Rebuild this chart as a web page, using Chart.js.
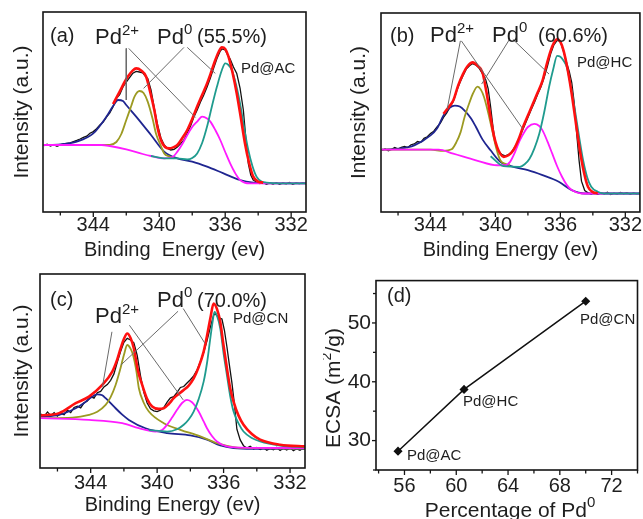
<!DOCTYPE html>
<html><head><meta charset="utf-8">
<script src="https://cdn.jsdelivr.net/npm/chart.js@4.4.1/dist/chart.umd.min.js"></script>
<style>
html,body{margin:0;padding:0;background:#fff;}
#wrap{position:relative;width:643px;height:519px;overflow:hidden;background:#fff;}
canvas{position:absolute;}
</style></head><body>
<div id="wrap">
<canvas id="ca" width="320" height="263" style="left:0;top:0"></canvas>
<canvas id="cb" width="320" height="263" style="left:323px;top:0"></canvas>
<canvas id="cc" width="320" height="256" style="left:0;top:263px"></canvas>
<canvas id="cd" width="320" height="256" style="left:323px;top:263px"></canvas>
</div>
<script>
// ---------- tick labels ----------
const energyTicks = [344, 340, 336, 332];
const pctTicks = [56, 60, 64, 68, 72];
const ecsaTicks = [30, 40, 50];

// ---------- panel (a) Pd@AC : [binding energy eV, intensity a.u.] ----------
const aBlack = [[347.0,33.2],[346.8,33.9],[346.6,33.0],[346.4,33.7],[346.2,32.9],[346.0,33.6],[345.8,34.0],[345.6,34.3],[345.4,34.6],[345.2,35.2],[345.0,35.8],[344.8,36.5],[344.6,37.3],[344.4,37.9],[344.2,39.4],[344.0,40.2],[343.8,41.6],[343.6,43.5],[343.4,45.0],[343.2,47.4],[343.0,49.5],[342.8,52.6],[342.6,56.8],[342.4,58.7],[342.2,62.5],[342.0,65.0],[341.8,67.2],[341.6,69.4],[341.4,70.3],[341.2,70.0],[341.0,69.6],[340.8,67.5],[340.7,66.8],[340.5,61.0],[340.3,52.0],[340.1,43.5],[339.9,37.0],[339.7,33.5],[339.5,31.8],[339.3,31.0],[339.1,31.3],[338.9,32.5],[338.7,34.2],[338.5,36.0],[338.3,39.5],[338.1,43.0],[337.9,47.5],[337.7,51.0],[337.5,55.0],[337.3,58.5],[337.1,62.5],[336.9,67.0],[336.7,72.0],[336.5,76.7],[336.3,80.5],[336.2,81.5],[336.0,81.0],[335.85,78.5],[335.7,76.5],[335.5,72.5],[335.3,69.3],[335.1,62.0],[334.9,51.0],[334.75,37.0],[334.6,24.3],[334.45,18.5],[334.3,16.0],[334.1,15.0],[333.9,14.2],[333.7,14.8],[333.5,13.9],[333.3,14.6],[333.1,14.0],[332.9,14.7],[332.7,13.8],[332.5,14.5],[332.3,14.1],[332.1,14.8],[331.9,13.9],[331.7,14.5],[331.5,14.2],[331.3,14.6],[331.0,14.1]];
const aRed = [[342.8,54],[342.4,60.2],[342.1,65],[341.9,67.7],[341.6,70.8],[341.4,71.8],[341.1,70.8],[340.8,67.7],[340.55,60],[340.3,51],[340.1,42],[339.9,36],[339.65,32.5],[339.4,31.8],[339.15,32.3],[338.9,33.5],[338.6,37],[338.3,41],[338.0,46.5],[337.7,52.7],[337.4,58.5],[337.1,64.3],[336.85,70],[336.6,76],[336.4,80],[336.2,82.3],[336.0,81.5],[335.8,77.7],[335.55,69.5],[335.3,59.3],[335.05,47],[334.8,34.3],[334.55,24.5],[334.3,17.7],[334.0,15.2],[333.7,14.7]];
const aNavy = [[347.0,33.5],[346.0,33.8],[345.0,35.2],[344.0,39.3],[343.2,47.7],[342.8,53],[342.5,56],[342.2,55.5],[342.0,53.5],[341.4,47.7],[340.5,38.5],[339.7,30.2],[338.9,26.8],[338.0,25.2],[337.1,22.7],[336.1,19.3],[335.1,16],[334.3,14.7],[333.1,14.3],[331.0,14.3]];
const aOlive = [[347,33.5],[344,33.5],[343.0,33.6],[342.6,35],[342.3,39],[342.0,46],[341.7,53],[341.5,57.7],[341.2,60.5],[340.95,59.5],[340.7,55.2],[340.4,46.5],[340.2,39.3],[339.9,33],[339.7,29.3],[339.4,27.8],[339.1,26.8]];
const aMagenta = [[347,33.5],[343.5,33.5],[343.0,33],[342.0,31.3],[341.0,29],[340.5,28],[339.7,26.8],[339.2,27.5],[338.9,30.2],[338.6,34],[338.3,38.5],[338.0,42.5],[337.7,45.2],[337.4,47.7],[337.1,46.8],[336.9,45.2],[336.6,41],[336.3,36],[336.0,30],[335.7,24.3],[335.4,19.5],[335.1,16],[334.5,14.3],[331,14.3]];
const aTeal = [[340.5,28],[339.7,26.8],[338.9,26.8],[338.3,26.3],[338.0,27],[337.7,29.3],[337.4,34.5],[337.1,42.7],[336.8,53],[336.5,62.7],[336.2,71],[336.0,74.3],[335.8,73.5],[335.6,71],[335.35,64],[335.1,54.3],[334.85,42],[334.6,31],[334.35,23],[334.1,17.7],[333.8,15.3],[333.5,14.7],[332.7,14.3],[331,14.3]];
const aLeaders = [[[342.0,81.8],[342.0,56]],[[341.85,81.8],[337.8,47.3]],[[338.5,82.3],[340.95,61.8]],[[338.3,82.3],[336.6,69.3]]];

// ---------- panel (b) Pd@HC ----------
const bBlack = [[347.0,31.0],[346.8,31.7],[346.6,30.8],[346.4,31.5],[346.2,32.4],[346.0,31.6],[345.8,32.5],[345.6,33.0],[345.4,32.4],[345.2,33.8],[345.0,34.2],[344.8,35.4],[344.6,35.0],[344.4,37.0],[344.2,37.8],[344.0,39.5],[343.8,40.6],[343.6,42.8],[343.4,44.5],[343.2,47.5],[343.0,49.8],[342.8,52.8],[342.6,55.5],[342.4,60.5],[342.2,64.8],[342.0,68.5],[341.8,71.8],[341.6,73.5],[341.4,74.6],[341.2,73.8],[341.0,72.2],[340.8,69.5],[340.6,66.5],[340.45,62],[340.3,53],[340.15,42.5],[340.0,34.5],[339.8,30.5],[339.6,28.8],[339.4,28.2],[339.2,28.8],[339.0,30.2],[338.8,32.8],[338.6,35.6],[338.4,39.8],[338.2,43.6],[338.0,47.5],[337.8,51.4],[337.6,55.0],[337.4,59.2],[337.2,62.8],[337.0,67.5],[336.8,73.2],[336.6,79.5],[336.4,84],[336.2,86.3],[336.0,85.6],[335.8,80.5],[335.6,74.5],[335.45,70.5],[335.3,65],[335.15,55],[335.0,40],[334.85,26],[334.7,15.5],[334.5,10.8],[334.3,9.6],[334.1,9.0],[333.9,9.8],[333.7,8.9],[333.5,9.6],[333.3,9.1],[333.1,9.9],[332.9,8.8],[332.7,9.5],[332.5,9.0],[332.3,9.8],[332.1,9.2],[331.9,9.7],[331.7,8.9],[331.5,9.6],[331.3,9.1],[331.0,9.5]];
const bRed = [[343.2,49.3],[342.9,52.5],[342.6,56],[342.3,63.5],[342,69.3],[341.7,73.5],[341.4,75.2],[341.1,73.5],[340.8,70.2],[340.55,60],[340.3,47.7],[340.1,38.5],[339.9,32.7],[339.7,29.2],[339.5,27.7],[339.2,28.5],[338.9,31],[338.6,36],[338.3,42.7],[338.0,48.5],[337.7,54.3],[337.4,60],[337.1,66],[336.85,74],[336.6,81],[336.4,85],[336.2,86.8],[336.0,85.5],[335.8,81],[335.55,71.5],[335.3,59.3],[335.05,45],[334.8,31],[334.55,20],[334.3,12.7],[334.0,10],[333.7,9.4]];
const bNavy = [[347,31.3],[346,31.8],[345,33.5],[344,38.5],[343.6,42],[343.2,48.5],[342.8,52.5],[342.5,53.5],[342.2,53],[341.9,51],[341.5,47],[341.2,42.7],[340.8,36.5],[340.3,31],[339.7,25.2],[338.9,22.7],[338,21],[337.1,18.5],[336.1,15.2],[335.3,11],[334.5,9.3],[331,9.3]];
const bOlive = [[347,31.3],[344,31.3],[343.2,30.7],[342.7,31.5],[342.4,35.2],[342.15,40],[341.9,47.7],[341.6,55],[341.4,59.3],[341.1,63],[340.9,61.5],[340.7,57.7],[340.45,50],[340.2,41],[339.95,32],[339.7,26],[339.4,24.2],[339.1,23.5]];
const bMagenta = [[347,31.3],[343.5,31.3],[342.6,29.3],[341.2,26],[339.9,23.5],[339.4,23.5],[339.1,25.2],[338.8,30],[338.5,36],[338.2,40.5],[338.0,42.7],[337.6,44.3],[337.3,43.2],[337.1,41],[336.8,35.5],[336.5,29.3],[336.2,23],[335.9,17.7],[335.6,13.5],[335.3,11],[334.7,9.3],[331,9.3]];
const bTeal = [[340.3,28],[339.5,23],[338.5,22.7],[338.2,24],[337.9,26.8],[337.6,32],[337.3,39.3],[337.0,50],[336.7,62.7],[336.45,71.5],[336.2,78.5],[336.0,78],[335.8,76],[335.6,72.7],[335.35,63],[335.1,51],[334.85,38],[334.6,26],[334.35,17.5],[334.1,12.7],[333.7,10.2],[333.3,9.3],[331,9.3]];
const bLeaders = [[[342.16,86],[342.97,51.8]],[[342.1,86],[338.32,41.8]],[[339.13,86.8],[340.85,64.3]],[[338.93,86.8],[336.7,69.3]]];

// ---------- panel (c) Pd@CN ----------
const cBlack = [[347.0,27.8],[346.8,26.6],[346.6,28.9],[346.4,27.0],[346.2,28.5],[346.0,26.8],[345.8,28.2],[345.6,27.5],[345.4,29.8],[345.2,28.6],[345.0,31.2],[344.8,31.9],[344.6,31.0],[344.4,33.6],[344.2,34.5],[344.0,36.8],[343.8,36.0],[343.6,38.8],[343.4,39.5],[343.2,41.8],[343.0,43.0],[342.8,45.2],[342.6,48.5],[342.4,54.5],[342.2,60.0],[342.0,64.8],[341.8,66.8],[341.6,66.0],[341.4,64.5],[341.2,58],[341.0,47.5],[340.8,39],[340.6,33.5],[340.4,30.5],[340.2,29.5],[340.0,29.1],[339.8,29.8],[339.6,31.2],[339.4,34],[339.2,36.2],[339.0,36.8],[338.8,39.0],[338.6,41.5],[338.4,42.0],[338.2,43.8],[338.0,45.5],[337.8,47.5],[337.6,50.5],[337.4,54.8],[337.2,59.5],[337.0,65.5],[336.8,72.5],[336.6,78.8],[336.5,79.5],[336.3,77.5],[336.1,76.8],[335.95,71],[335.8,62.5],[335.65,53],[335.5,44],[335.35,33],[335.2,20],[335.0,14.5],[334.8,11.5],[334.6,10.3],[334.4,11.2],[334.2,9.8],[334.0,10.6],[333.8,9.5],[333.6,10.4],[333.4,9.2],[333.2,10.1],[333.0,9.4],[332.8,10.6],[332.6,9.0],[332.4,10.2],[332.2,9.3],[332.0,10.5],[331.8,8.9],[331.6,9.9],[331.4,9.2],[331.2,10.3],[331.0,9.0]];
const cRed = [[347,27.1],[345.9,28.3],[344.9,33.4],[344.1,36.8],[343.3,42.8],[342.7,49.7],[342.4,56],[342.2,61.6],[342.0,66.5],[341.8,69.3],[341.6,67],[341.4,61.6],[341.15,50],[340.9,42.8],[340.6,35.5],[340.3,31.7],[339.9,30.5],[339.6,30.8],[339.3,33],[339,36],[338.7,38.2],[338.4,40.2],[338.1,42.5],[337.8,46.2],[337.5,52],[337.2,60],[337.0,68],[336.8,77],[336.6,84.8],[336.4,82],[336.2,75.3],[336.0,63],[335.8,51.4],[335.6,41],[335.4,34.2],[335.1,27],[334.8,22.3],[334.3,17.5],[333.8,14.6],[332.6,12],[331,11.1]];
const cNavy = [[347,26.5],[345.9,27.4],[344.9,30.8],[344.4,33.5],[344.1,35.6],[343.6,38],[343.3,37.5],[343.1,36],[342.8,33.5],[342.5,30.8],[342.1,27.5],[341.7,24.8],[340.7,20.5],[339.4,18],[338,16.8],[337,14.6],[336.2,11.6],[335.4,10.3],[334,9.9],[331,9.8]];
const cOlive = [[347,25.7],[345.1,26],[344.1,27.4],[343.6,29],[343.1,32.5],[342.8,36.5],[342.5,42.8],[342.25,50],[342.0,58.2],[341.8,63.4],[341.6,61.5],[341.45,58.2],[341.25,50],[341.1,41.1],[340.8,33.5],[340.5,29.1],[339.6,23.1],[338.6,19.7],[337.4,16.3],[336.4,12.8],[335.4,10.8],[334,10.2],[331,10]];
const cMagenta = [[347,25.7],[344.1,24.8],[342.1,23.1],[341.1,20.5],[340.1,18.8],[339.7,19.6],[339.4,22.3],[339.1,26],[338.8,30],[338.5,33.5],[338.2,35.1],[337.9,33.9],[337.7,31.8],[337.5,29.1],[337.2,24],[337.0,20.5],[336.7,16.5],[336.4,13.7],[335.8,11.1],[335.0,10.5],[331,10.3]];
const cTeal = [[340.5,19.5],[339.4,18.8],[338.8,20],[338.4,22.3],[338.1,25],[337.8,29.1],[337.5,35.5],[337.2,44.5],[337.0,54],[336.8,66.8],[336.65,76],[336.55,80.5],[336.4,78.5],[336.2,71.9],[336.0,59],[335.8,47.9],[335.6,37],[335.4,29.1],[335.1,23],[334.8,18.8],[334.3,15.5],[333.8,13.7],[332.6,11.6],[331,10.6]];
const cLeaders = [[[342.72,70.2],[343.29,42.0]],[[341.67,73.6],[338.43,35.1]],[[338.74,80.8],[342.18,53.1]],[[338.43,82.2],[337.12,64.2]]];

// ---------- panel (d) ECSA vs Pd0 percentage ----------
const dSamples = ['Pd@AC', 'Pd@HC', 'Pd@CN'];
const dPercent = [55.5, 60.6, 70.0];
const dEcsa = [28.2, 38.7, 53.7];

// ---------- styling ----------
const FONT = "'Liberation Sans', Arial, Helvetica, sans-serif";
const INK = '#1e1e1e';
const C = {black:'#111111', red:'#ff1010', navy:'#1f2590', olive:'#9c9a22', magenta:'#ff1aff', teal:'#1f9b8e', leader:'#6a6a6a'};

const TEXTS = {
  ca: [
    {x:50, y:42, segs:[['(a)',20,0]]},
    {x:95, y:44, segs:[['Pd',22,0],['2+',15,-9]]},
    {x:157, y:44, segs:[['Pd',22,0],['0',15,-10]]},
    {x:197, y:43, segs:[['(55.5%)',20,0]]},
    {x:241, y:73, segs:[['Pd@AC',15,0]]}
  ],
  cb: [
    {x:67, y:42, segs:[['(b)',20,0]]},
    {x:107, y:42, segs:[['Pd',22,0],['2+',15,-9]]},
    {x:169, y:42, segs:[['Pd',22,0],['0',15,-10]]},
    {x:215, y:42, segs:[['(60.6%)',20,0]]},
    {x:254, y:67, segs:[['Pd@HC',15,0]]}
  ],
  cc: [
    {x:50, y:43, segs:[['(c)',20,0]]},
    {x:95, y:60, segs:[['Pd',22,0],['2+',15,-9]]},
    {x:157, y:44, segs:[['Pd',22,0],['0',15,-10]]},
    {x:197, y:44, segs:[['(70.0%)',20,0]]},
    {x:233, y:60, segs:[['Pd@CN',15,0]]}
  ],
  cd: [
    {x:64, y:39, segs:[['(d)',20,0]]},
    {x:84, y:197, segs:[['Pd@AC',15,0]]},
    {x:140, y:143, segs:[['Pd@HC',15,0]]},
    {x:257, y:61, segs:[['Pd@CN',15,0]]},
    {x:17, y:125, rot:-Math.PI/2, align:'center', segs:[['ECSA (m',21,0],['2',14,-9],['/g)',21,0]]},
    {x:187, y:254, align:'center', segs:[['Percentage of Pd',21,0],['0',15,-10]]}
  ]
};

function drawRich(ctx, it) {
  ctx.save();
  ctx.translate(it.x, it.y);
  if (it.rot) ctx.rotate(it.rot);
  ctx.fillStyle = INK; ctx.textAlign = 'left'; ctx.textBaseline = 'alphabetic';
  let total = 0;
  it.segs.forEach(s => { ctx.font = s[1] + 'px ' + FONT; total += ctx.measureText(s[0]).width; });
  let x = it.align === 'center' ? -total / 2 : 0;
  it.segs.forEach(s => { ctx.font = s[1] + 'px ' + FONT; ctx.fillText(s[0], x, s[2]); x += ctx.measureText(s[0]).width; });
  ctx.restore();
}

const framePlugin = {
  id: 'frame',
  afterDraw(chart) {
    const ctx = chart.ctx, a = chart.chartArea;
    ctx.save();
    ctx.strokeStyle = '#151515';
    ctx.lineWidth = 1.6;
    ctx.strokeRect(a.left, a.top, a.right - a.left, a.bottom - a.top);
    ctx.lineWidth = 1.3;
    const xs = chart.scales.x;
    xs.ticks.forEach(t => {
      const px = xs.getPixelForValue(t.value);
      const len = t.label !== '' ? 5 : 3.5;
      ctx.beginPath(); ctx.moveTo(px, a.bottom); ctx.lineTo(px, a.bottom + len); ctx.stroke();
    });
    if (chart.canvas.id === 'cd') {
      const ys = chart.scales.y;
      ys.ticks.forEach(t => {
        const py = ys.getPixelForValue(t.value);
        const len = t.label !== '' ? 4 : 3;
        ctx.beginPath(); ctx.moveTo(a.left, py); ctx.lineTo(a.left - len, py); ctx.stroke();
      });
    }
    ctx.restore();
    (TEXTS[chart.canvas.id] || []).forEach(it => drawRich(ctx, it));
  }
};

const toXY = arr => arr.map(p => ({x: p[0], y: p[1]}));
const NOGRID = {display: false, drawTicks: false};

function makeXps(id, d, geo) {
  const leaders = d.leaders.map(l => ({data: toXY(l), borderColor: C.leader, borderWidth: 1, tension: 0, order: 0}));
  const curve = (label, data, color, w, ord, smooth) => ({
    label, data: toXY(data), borderColor: color, borderWidth: w, order: ord,
    cubicInterpolationMode: smooth ? 'monotone' : 'default', tension: 0
  });
  return new Chart(document.getElementById(id), {
    type: 'line',
    data: {datasets: [
      ...leaders,
      curve('Envelope', d.red, C.red, 2.6, 1, true),
      curve('Pd0 3d5/2', d.teal, C.teal, 1.8, 2, true),
      curve('Pd2+ 3d5/2', d.magenta, C.magenta, 1.8, 3, true),
      curve('Pd0 3d3/2', d.olive, C.olive, 1.8, 4, true),
      curve('Pd2+ 3d3/2', d.navy, C.navy, 1.8, 5, true),
      curve('Raw', d.black, C.black, 1.3, 6, false)
    ]},
    options: {
      responsive: false, animation: false, devicePixelRatio: 1,
      layout: {padding: {top: geo.top, right: geo.right, left: 0, bottom: 0}},
      elements: {point: {radius: 0}},
      plugins: {legend: {display: false}, tooltip: {enabled: false}},
      scales: {
        x: {type: 'linear', reverse: true, min: 331.1, max: 347.05,
            grid: NOGRID, border: {display: false},
            ticks: {stepSize: 2, includeBounds: false, autoSkip: false, maxRotation: 0, padding: geo.tickPad,
                    color: INK, font: {family: FONT, size: 20},
                    callback: v => energyTicks.includes(Math.round(v)) && Math.abs(v - Math.round(v)) < 1e-6 ? String(Math.round(v)) : ''},
            title: {display: true, text: geo.xTitle, color: INK, font: {family: FONT, size: 20},
                    padding: {top: 0, bottom: geo.xTitlePad}},
            afterFit: s => { s.height = geo.xh; }},
        y: {min: 0, max: 100, grid: NOGRID, border: {display: false}, ticks: {display: false},
            title: {display: true, text: 'Intensity (a.u.)', color: INK, font: {family: FONT, size: 21},
                    padding: {top: geo.yTitlePad, bottom: 0}},
            afterFit: s => { s.width = geo.yw; }}
      }
    },
    plugins: [framePlugin]
  });
}

makeXps('ca', {black: aBlack, red: aRed, navy: aNavy, olive: aOlive, magenta: aMagenta, teal: aTeal, leaders: aLeaders},
  {top: 12, right: 14, yw: 43, xh: 51, tickPad: 1, xTitlePad: 1, yTitlePad: 10, xTitle: 'Binding  Energy (ev)'});
makeXps('cb', {black: bBlack, red: bRed, navy: bNavy, olive: bOlive, magenta: bMagenta, teal: bTeal, leaders: bLeaders},
  {top: 13, right: 0, yw: 58, xh: 51, tickPad: 1, xTitlePad: 1, yTitlePad: 24, xTitle: 'Binding Energy (ev)'});
makeXps('cc', {black: cBlack, red: cRed, navy: cNavy, olive: cOlive, magenta: cMagenta, teal: cTeal, leaders: cLeaders},
  {top: 11, right: 15, yw: 40, xh: 51, tickPad: 3, xTitlePad: 2, yTitlePad: 10, xTitle: 'Binding Energy (ev)'});

new Chart(document.getElementById('cd'), {
  type: 'line',
  data: {datasets: [{
    label: 'ECSA',
    data: dPercent.map((p, i) => ({x: p, y: dEcsa[i]})),
    borderColor: C.black, borderWidth: 1.5, tension: 0,
    pointStyle: 'rectRot', pointRadius: 3.5, pointBackgroundColor: C.black, pointBorderColor: C.black
  }]},
  options: {
    responsive: false, animation: false, devicePixelRatio: 1,
    layout: {padding: {top: 11, right: 1, left: 0, bottom: 0}},
    plugins: {legend: {display: false}, tooltip: {enabled: false}},
    scales: {
      x: {type: 'linear', min: 53.8, max: 74, grid: NOGRID, border: {display: false},
          ticks: {stepSize: 2, includeBounds: false, autoSkip: false, maxRotation: 0, padding: 4,
                  color: INK, font: {family: FONT, size: 20},
                  callback: v => pctTicks.includes(v) ? String(v) : ''},
          afterFit: s => { s.height = 49; }},
      y: {min: 25, max: 57.2, grid: NOGRID, border: {display: false},
          ticks: {stepSize: 5, includeBounds: false, autoSkip: false, padding: 5,
                  color: INK, font: {family: FONT, size: 21},
                  callback: v => ecsaTicks.includes(v) ? String(v) : ''},
          afterFit: s => { s.width = 53; }}
    }
  },
  plugins: [framePlugin]
});
</script>
</body></html>
